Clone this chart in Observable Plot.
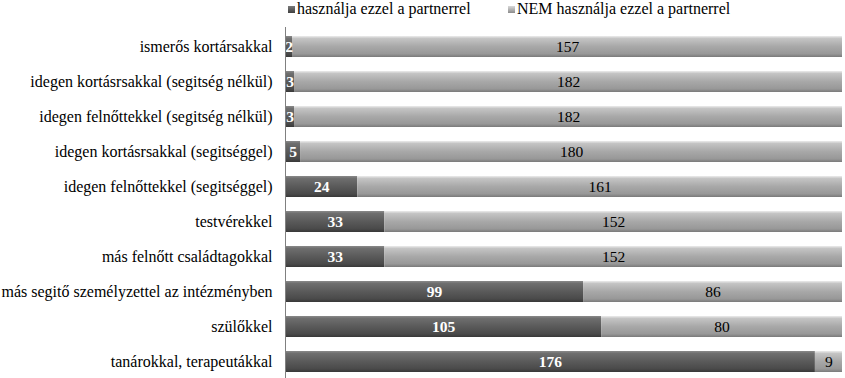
<!DOCTYPE html>
<html>
<head>
<meta charset="utf-8">
<script src="https://cdn.jsdelivr.net/npm/d3@7"></script>
<script src="https://cdn.jsdelivr.net/npm/@observablehq/plot@0.6"></script>
<style>
  html, body { margin: 0; padding: 0; background: #fff; overflow: hidden; }
  body { width: 845px; height: 378px; font-family: "Liberation Serif", "Times New Roman", serif; }
  #legend { position: relative; height: 22px; font-size: 16px; color: #000; }
  .li { position: absolute; top: 0px; display: flex; align-items: center; white-space: nowrap; }
  .sw { width: 7px; height: 7px; margin-right: 2px; }
</style>
</head>
<body>
<div id="legend">
  <div class="li" style="left:288px"><span class="sw" style="background:linear-gradient(#7a7a7a,#404040)"></span><span id="l0"></span></div>
  <div class="li" style="left:508px"><span class="sw" style="background:linear-gradient(#d8d8d8,#8c8c8c)"></span><span id="l1"></span></div>
</div>
<div id="chart"></div>
<script>
const categories = [
  "ismerős kortársakkal",
  "idegen kortásrsakkal (segitség nélkül)",
  "idegen felnőttekkel (segitség nélkül)",
  "idegen kortásrsakkal (segitséggel)",
  "idegen felnőttekkel (segitséggel)",
  "testvérekkel",
  "más felnőtt családtagokkal",
  "más segitő személyzettel az intézményben",
  "szülőkkel",
  "tanárokkal, terapeutákkal"
];
const seriesNames = ["használja ezzel a partnerrel", "NEM használja ezzel a partnerrel"];
const usesValues = [2, 3, 3, 5, 24, 33, 33, 99, 105, 176];
const notUsesValues = [157, 182, 182, 180, 161, 152, 152, 86, 80, 9];

document.getElementById("l0").textContent = seriesNames[0];
document.getElementById("l1").textContent = seriesNames[1];

const data = [];
categories.forEach((c, i) => {
  data.push({cat: c, series: seriesNames[0], value: usesValues[i]});
  data.push({cat: c, series: seriesNames[1], value: notUsesValues[i]});
});

const SERIF = "'Liberation Serif', 'Times New Roman', serif";
const W = 845, H = 358;
const stackOpts = {x: "value", y: "cat", z: "series", offset: "normalize"};

const plot = Plot.plot({
  width: W,
  height: H,
  marginLeft: 285,
  marginRight: 3,
  marginTop: 5,
  marginBottom: 0,
  style: {fontFamily: SERIF, fontSize: "15px", color: "#000", background: "#fff"},
  x: {axis: null, domain: [0, 1]},
  y: {domain: categories, paddingInner: 0.4, paddingOuter: 0.2, axis: null},
  color: {type: "ordinal", domain: seriesNames, range: ["url(#gDark)", "url(#gLight)"]},
  marks: [
    Plot.axisY({tickSize: 0, tickPadding: 13, label: null, fontSize: 16, fill: "#000", fontFamily: SERIF}),
    Plot.barX(data, Plot.stackX({...stackOpts, fill: "series", inset: 0})),
    Plot.text(data, Plot.stackX({...stackOpts, text: d => d.series === seriesNames[0] ? String(d.value) : null, fill: "#fff", fontWeight: "bold", fontSize: 15.5, fontFamily: SERIF})),
    Plot.text(data, Plot.stackX({...stackOpts, text: d => d.series === seriesNames[1] ? String(d.value) : null, fill: "#000", fontSize: 15.5, fontFamily: SERIF})),
    Plot.ruleX([0], {stroke: "#808080", strokeWidth: 1})
  ]
});

const svg = d3.select(plot);
svg.selectAll("text").style("font-family", SERIF);

// Gradient definitions for the bevelled bar look
const defs = svg.insert("defs", ":first-child");
const gd = defs.append("linearGradient").attr("id", "gDark").attr("x1", 0).attr("y1", 0).attr("x2", 0).attr("y2", 1);
[[0, "#8a8a8a"], [0.12, "#6e6e6e"], [0.5, "#5a5a5a"], [0.85, "#4a4a4a"], [1, "#383838"]].forEach(([o, c]) => gd.append("stop").attr("offset", o).attr("stop-color", c));
const gl = defs.append("linearGradient").attr("id", "gLight").attr("x1", 0).attr("y1", 0).attr("x2", 0).attr("y2", 1);
[[0, "#ececec"], [0.12, "#c4c4c4"], [0.5, "#a8a8a8"], [0.85, "#989898"], [1, "#7a7a7a"]].forEach(([o, c]) => gl.append("stop").attr("offset", o).attr("stop-color", c));

document.getElementById("chart").appendChild(plot);
</script>
</body>
</html>
